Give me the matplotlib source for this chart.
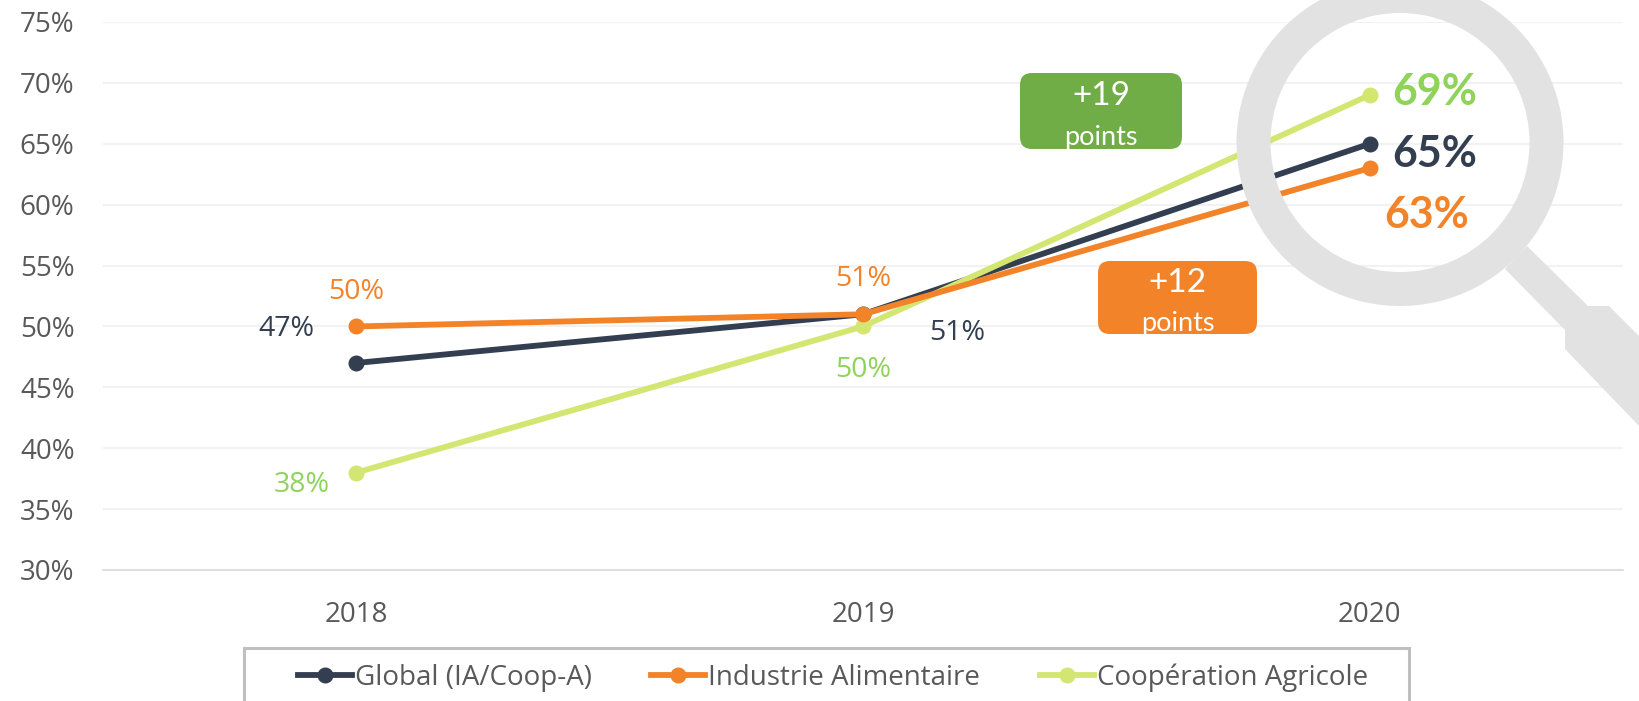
import numpy as np
import matplotlib
matplotlib.use('Agg')
import matplotlib.pyplot as plt
from matplotlib.patches import FancyBboxPatch, Polygon, Rectangle, Annulus

years = ['2018', '2019', '2020']
global_vals = [47, 51, 65]
industrie_vals = [50, 51, 63]
coop_vals = [38, 50, 69]
y_ticks = [30, 35, 40, 45, 50, 55, 60, 65, 70, 75]
series_names = ['Global (IA/Coop-A)', 'Industrie Alimentaire', 'Coopération Agricole']

DARK = '#333F50'
ORANGE = '#F28329'
LIME = '#D3E671'
LABEL_GREEN = '#8FD35A'
BOX_GREEN = '#70AD47'
GREY = '#595959'
W, H = 1640, 701

plt.rcParams['font.family'] = ['Open Sans', 'DejaVu Sans']

fig = plt.figure(figsize=(W / 100, H / 100), dpi=100)
ax = fig.add_axes([103 / W, 1 - 570 / H, 1520 / W, 548 / H])

# main lines
x = np.arange(len(years))
l1, = ax.plot(x, global_vals, color=DARK, lw=4.2, marker='o', ms=10.5, zorder=3)
l2, = ax.plot(x, industrie_vals, color=ORANGE, lw=4.2, marker='o', ms=10.5, zorder=4)
l3, = ax.plot(x, coop_vals, color=LIME, lw=4.2, marker='o', ms=10.5, zorder=3.5)

ax.set_xlim(-0.5, 2.5)
ax.set_ylim(30, 75)
ax.set_xticks(x)
ax.set_xticklabels(years)
ax.set_yticks(y_ticks)
ax.set_yticklabels([f'{v}%' for v in y_ticks])
ax.tick_params(length=0, labelsize=20, labelcolor=GREY)
ax.tick_params(axis='x', pad=22)
ax.tick_params(axis='y', pad=20.5)
ax.grid(axis='y', color='#F2F2F2', lw=1.5)
ax.set_axisbelow(True)
for side in ['top', 'left', 'right']:
    ax.spines[side].set_visible(False)
ax.spines['bottom'].set_color('#D9D9D9')
ax.spines['bottom'].set_linewidth(1.2)


def label(i, vals, dx, dy, color, big=False):
    ax.annotate(f'{vals[i]}%', (x[i], vals[i]), xytext=(dx, dy), textcoords='offset pixels',
                ha='center', va='center', color=color,
                fontsize=31 if big else 20.5,
                fontweight='bold' if big else 'normal',
                family=['Lato', 'DejaVu Sans'] if big else ['Open Sans', 'DejaVu Sans'])


label(0, industrie_vals, 0, 34, ORANGE)
label(0, global_vals, -70, 34, DARK)
label(0, coop_vals, -55, -12, LABEL_GREEN)
label(1, industrie_vals, 0, 35, ORANGE)
label(1, global_vals, 94, -19, DARK)
label(1, coop_vals, 0, -44, LABEL_GREEN)
label(2, coop_vals, 65, 3, LABEL_GREEN, big=True)
label(2, global_vals, 65, -10, DARK, big=True)
label(2, industrie_vals, 57, -47, ORANGE, big=True)

# overlay in pixel coords for the boxes, magnifier and legend frame
over = fig.add_axes([0, 0, 1, 1], facecolor='none')
over.set_xlim(0, W)
over.set_ylim(H, 0)
over.axis('off')


def box(x0, y0, x1, y1, color, top, bottom, ty, by):
    over.add_patch(FancyBboxPatch((x0 + 12, y0 + 12), x1 - x0 - 24, y1 - y0 - 24,
                                  boxstyle='round,pad=12,rounding_size=12',
                                  fc=color, ec='none'))
    cx = (x0 + x1) / 2
    over.text(cx, ty, top, color='white', ha='center', va='center', fontsize=24,
              family=['Lato', 'DejaVu Sans'])
    over.text(cx, by, bottom, color='white', ha='center', va='center', fontsize=19.5,
              family=['Lato', 'DejaVu Sans'])


box(1020, 73, 1182, 149, BOX_GREEN, '+19', 'points', 96, 137)
box(1098, 261, 1257, 334, ORANGE, '+12', 'points', 283, 323)

# magnifier
RING = '#E2E2E2'
over.add_patch(Polygon([(1527, 246), (1588, 306), (1609, 306), (1640, 337), (1640, 427),
                        (1565, 349), (1565, 330), (1505, 269)], fc=RING, ec='none'))
over.add_patch(Annulus((1400, 142.5), 163.5, 34, fc=RING, ec='none'))

# legend
over.add_patch(Rectangle((244, 648), 1165, 70, fc='white', ec='#BFBFBF', lw=2.2))
leg = over.legend([l1, l2, l3], series_names, loc='center', ncol=3, frameon=False,
                  bbox_to_anchor=(832.7 / W, 1 - 677.5 / H), bbox_transform=fig.transFigure,
                  fontsize=20, labelcolor=GREY, handlelength=1.95, handletextpad=0.1,
                  columnspacing=2.15, borderpad=0)

fig.savefig('out.png', dpi=100)
